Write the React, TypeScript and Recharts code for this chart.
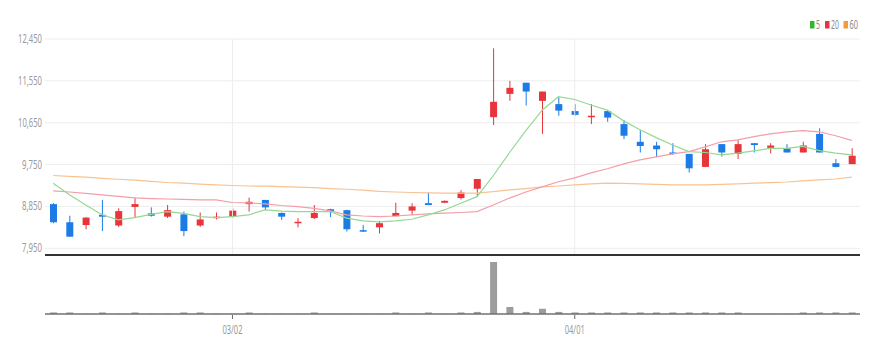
import React from 'react';
import { ComposedChart, Bar, Line, XAxis, YAxis, CartesianGrid, ReferenceLine } from 'recharts';

const dates = [
  '02/14', '02/15', '02/16', '02/17', '02/18', '02/21', '02/22', '02/23', '02/24', '02/25',
  '02/28', '03/02', '03/03', '03/04', '03/07', '03/08', '03/10', '03/11', '03/14', '03/15',
  '03/16', '03/17', '03/18', '03/21', '03/22', '03/23', '03/24', '03/25', '03/28', '03/29',
  '03/30', '03/31', '04/01', '04/04', '04/05', '04/06', '04/07', '04/08', '04/11', '04/12',
  '04/13', '04/14', '04/15', '04/18', '04/19', '04/20', '04/21', '04/22', '04/25', '04/26',
];

const opens = [
  8900, 8510, 8450, 8670, 8440, 8840, 8700, 8630, 8680, 8440,
  8600, 8630, 8900, 8990, 8710, 8490, 8600, 8790, 8770, 8340,
  8400, 8640, 8760, 8920, 8930, 9030, 9230, 10770, 11270, 11510,
  11120, 11050, 10900, 10770, 10900, 10620, 10240, 10160, 10010, 9980,
  9700, 10190, 9980, 10210, 10110, 10100, 10010, 10410, 9780, 9760,
];

const highs = [
  8920, 8650, 8620, 8990, 8810, 9040, 8830, 8880, 8740, 8720,
  8720, 8810, 9040, 8990, 8720, 8600, 8880, 8800, 8780, 8450,
  8540, 8930, 8920, 9150, 8980, 9200, 9440, 12250, 11550, 11510,
  11320, 11200, 11050, 11050, 10900, 10710, 10490, 10240, 10210, 9980,
  10190, 10190, 10280, 10210, 10210, 10190, 10240, 10530, 9870, 10100,
];

const lows = [
  8490, 8200, 8360, 8320, 8410, 8600, 8630, 8600, 8210, 8410,
  8570, 8600, 8740, 8770, 8560, 8400, 8580, 8620, 8310, 8300,
  8270, 8640, 8670, 8880, 8920, 9000, 9060, 10600, 11120, 11020,
  10410, 10800, 10800, 10620, 10670, 10300, 10010, 9910, 9960, 9580,
  9700, 9920, 9870, 10010, 9990, 10010, 10010, 10010, 9690, 9760,
];

const closes = [
  8510, 8200, 8610, 8630, 8750, 8900, 8650, 8770, 8320, 8570,
  8630, 8760, 8950, 8830, 8630, 8520, 8710, 8730, 8360, 8310,
  8490, 8710, 8850, 8880, 8970, 9150, 9440, 11100, 11400, 11320,
  11320, 10910, 10820, 10800, 10760, 10370, 10150, 10080, 9980, 9670,
  10080, 10010, 10190, 10170, 10160, 10010, 10160, 10010, 9700, 9940,
];

const ma5 = [
  9350, 9100, 8880, 8670, 8560, 8610, 8680, 8740, 8700, 8630,
  8610, 8630, 8670, 8775, 8750, 8740, 8740, 8740, 8600, 8540,
  8520, 8540, 8575, 8670, 8775, 8920, 9060, 9510, 10010, 10480,
  10920, 11210, 11150, 11030, 10920, 10690, 10500, 10330, 10170, 10030,
  10010, 9960, 9995, 10045, 10100, 10100, 10140, 10050, 9995, 9960,
];

const ma20 = [
  9185, 9160, 9130, 9100, 9065, 9035, 9020, 9010, 9000, 8990,
  8990, 8935, 8925, 8905, 8870, 8845, 8810, 8755, 8670, 8645,
  8630, 8645, 8670, 8690, 8705, 8720, 8740, 8880, 9030, 9160,
  9270, 9380, 9465, 9570, 9660, 9765, 9850, 9915, 9980, 10030,
  10130, 10240, 10280, 10350, 10410, 10455, 10480, 10455, 10370, 10270,
];

const ma60 = [
  9515, 9495, 9480, 9455, 9435, 9415, 9390, 9365, 9350, 9330,
  9315, 9300, 9290, 9285, 9275, 9265, 9255, 9235, 9220, 9200,
  9175, 9160, 9150, 9140, 9135, 9135, 9135, 9170, 9205, 9235,
  9270, 9290, 9315, 9335, 9350, 9345, 9335, 9325, 9315, 9315,
  9315, 9325, 9335, 9350, 9360, 9375, 9400, 9420, 9440, 9480,
];

const volumes = [
  3, 3, 0.5, 3, 0.5, 3, 0.5, 0.5, 3, 3,
  0.5, 0.5, 3, 0.5, 0.5, 0.5, 3, 0.5, 0.5, 0.5,
  0.5, 3, 0.5, 3, 0.5, 3, 4, 100, 13.5, 4,
  10, 4, 3, 3, 3, 3, 3, 3, 3, 3,
  3, 3, 3, 0.5, 0.5, 0.5, 3, 3, 3, 3,
];

const priceTicks = [7950, 8850, 9750, 10650, 11550, 12450];
const dateTicks = ['03/02', '04/01'];
const legendItems = [
  { label: '5', color: '#2fb82f' },
  { label: '20', color: '#e8343a' },
  { label: '60', color: '#f39a3a' },
];

const data = dates.map((d, i) => ({
  date: d,
  open: opens[i],
  high: highs[i],
  low: lows[i],
  close: closes[i],
  range: [lows[i], highs[i]],
  ma5: ma5[i],
  ma20: ma20[i],
  ma60: ma60[i],
  volume: volumes[i],
}));

const RED = '#e8343a';
const BLUE = '#1d7be6';
const FONT = '"Noto Sans", Roboto, sans-serif';

const Candle = (props: any) => {
  const { x, y, width, height, payload } = props;
  if (!payload || x == null) return <g />;
  const { open, close, high, low } = payload;
  const top = Math.min(y, y + height);
  const h = Math.abs(height);
  const toY = (p: number) => (high === low ? top : top + ((high - p) / (high - low)) * h);
  const up = close >= open;
  const color = up ? RED : BLUE;
  const cx = x + width / 2;
  const bTop = toY(Math.max(open, close));
  const bBot = toY(Math.min(open, close));
  return (
    <g>
      <line x1={cx} x2={cx} y1={top} y2={top + h} stroke={color} strokeWidth={1} />
      <rect x={x} y={bTop} width={width} height={Math.max(1.5, bBot - bTop)} fill={color} />
    </g>
  );
};

const YTick = (props: any) => {
  const { x, y, payload } = props;
  const s = Number(payload.value).toLocaleString('en-US');
  return (
    <text
      x={x}
      y={y}
      dy={4}
      textAnchor="end"
      fontSize={12}
      fontFamily={FONT}
      fill="#9a9a9a"
      textLength={s.length * 4}
      lengthAdjust="spacingAndGlyphs"
    >
      {s}
    </text>
  );
};

const XTick = (props: any) => {
  const { x, y, payload } = props;
  if (!dateTicks.includes(payload.value)) return <g />;
  return (
    <g>
      <line x1={x} x2={x} y1={y + 1} y2={y + 5} stroke="#666" strokeWidth={1} />
      <text
        x={x}
        y={y + 20}
        textAnchor="middle"
        fontSize={12}
        fontFamily={FONT}
        fill="#9a9a9a"
        textLength={20}
        lengthAdjust="spacingAndGlyphs"
      >
        {payload.value}
      </text>
    </g>
  );
};

export default function App() {
  return (
    <div style={{ position: 'absolute', left: 0, top: 0, width: 878, height: 354, background: '#fff' }}>
      <div style={{ position: 'absolute', left: 0, top: 0 }}>
        <ComposedChart width={878} height={257} data={data} margin={{ top: 39, right: 18, left: 0, bottom: 1 }}>
          <CartesianGrid vertical={false} stroke="#ededed" />
          <XAxis
            dataKey="date"
            height={1}
            tick={false}
            tickLine={false}
            axisLine={{ stroke: '#333', strokeWidth: 2 }}
          />
          <YAxis
            width={45}
            domain={[7806, 12450]}
            ticks={priceTicks}
            allowDataOverflow
            axisLine={false}
            tickLine={false}
            tickSize={0}
            tickMargin={3}
            tick={<YTick />}
            interval={0}
          />
          {dateTicks.map((d) => (
            <ReferenceLine key={d} x={d} stroke="#ededed" />
          ))}
          <Bar dataKey="range" barSize={7} shape={<Candle />} isAnimationActive={false} />
          <Line type="linear" dataKey="ma60" stroke="#f7c393" strokeWidth={1.2} dot={false} isAnimationActive={false} />
          <Line type="linear" dataKey="ma20" stroke="#f39ea8" strokeWidth={1.2} dot={false} isAnimationActive={false} />
          <Line type="linear" dataKey="ma5" stroke="#93d993" strokeWidth={1.2} dot={false} isAnimationActive={false} />
        </ComposedChart>
      </div>
      <div style={{ position: 'absolute', left: 0, top: 256 }}>
        <ComposedChart width={878} height={98} data={data} margin={{ top: 6, right: 18, left: 0, bottom: 0 }}>
          <XAxis
            dataKey="date"
            height={40}
            interval={0}
            tickLine={false}
            tickSize={0}
            tickMargin={0}
            tick={<XTick />}
            axisLine={{ stroke: '#707070', strokeWidth: 1.5 }}
          />
          <YAxis width={45} domain={[0, 'dataMax']} tick={false} axisLine={false} tickLine={false} />
          <Bar dataKey="volume" barSize={7} fill="#9c9c9c" isAnimationActive={false} />
        </ComposedChart>
      </div>
      <svg style={{ position: 'absolute', left: 0, top: 0 }} width={878} height={36}>
        {legendItems.map((it, i) => {
          const xs = [810, 825, 843.5][i];
          const tw = [4, 8, 8.5][i];
          return (
            <g key={it.label}>
              <rect x={xs} y={21} width={4.5} height={7.5} fill={it.color} />
              <text
                x={xs + 6}
                y={28.8}
                fontSize={12}
                fontFamily={FONT}
                fill="#8a8a8a"
                textLength={tw}
                lengthAdjust="spacingAndGlyphs"
              >
                {it.label}
              </text>
            </g>
          );
        })}
      </svg>
    </div>
  );
}
